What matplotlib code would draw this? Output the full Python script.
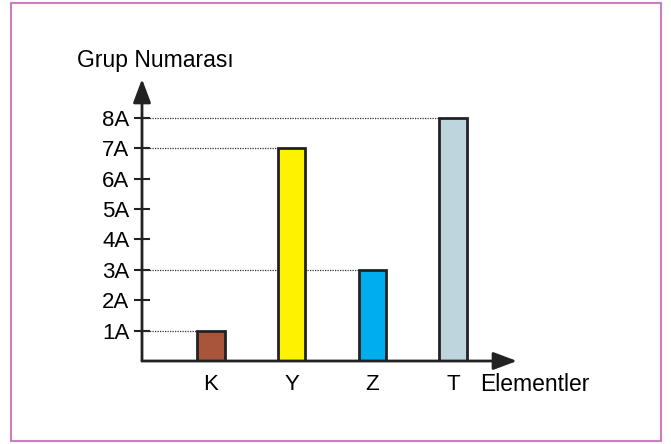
import matplotlib.pyplot as plt
from matplotlib.patches import Rectangle

plt.rcParams['font.family'] = ['Liberation Sans', 'DejaVu Sans']

elements = ['K', 'Y', 'Z', 'T']
groups = [1, 7, 3, 8]
colors = ['#a9553c', '#fff200', '#00aeef', '#bfd5dd']
tick_labels = ['1A', '2A', '3A', '4A', '5A', '6A', '7A', '8A']

W, H = 671, 444
fig = plt.figure(figsize=(W / 100, H / 100), dpi=100)

# pink frame round the whole picture
fig.patches.append(Rectangle((11 / W, 3 / H), 650 / W, 438 / H, transform=fig.transFigure,
                             fill=False, edgecolor='#cc7fbf', linewidth=1.5))

# axes box in pixels: x 142..517, y 79..361 (from top)
ax = fig.add_axes([142 / W, (H - 361) / H, 375 / W, 282 / H])
x = list(range(1, len(elements) + 1))
xmin = 1 - 69 / 80.67
xmax = 1 + 306 / 80.67
ax.set_xlim(xmin, xmax)
ax.set_ylim(0, 282 / 30.4)

ax.bar(x, groups, width=0.335, color=colors, edgecolor='#222222', linewidth=2, zorder=3)

# dotted guides from the y axis to each bar top
for xi, g in zip(x, groups):
    ax.plot([xmin, xi - 0.335 / 2], [g, g], ls=(0, (1, 1)), color='#333333', lw=0.9, zorder=2)

for s in ax.spines.values():
    s.set_visible(False)

# axis lines with arrow heads
arrow = dict(arrowstyle='-|>,head_length=1.2,head_width=0.45', color='#222222', lw=2,
             mutation_scale=12, shrinkA=0, shrinkB=0)
ax.annotate('', xy=(0, 1), xytext=(0, 0), xycoords='axes fraction', arrowprops=arrow,
            annotation_clip=False)
ax.annotate('', xy=(1, 0), xytext=(0, 0), xycoords='axes fraction', arrowprops=arrow,
            annotation_clip=False)

ax.set_yticks(range(1, 9))
ax.set_yticklabels(tick_labels, fontsize=16)
ax.tick_params(axis='y', direction='inout', length=12, width=1.5, color='#222222', pad=3)
ax.set_xticks(x)
ax.set_xticklabels(elements, fontsize=16)
ax.tick_params(axis='x', length=0, pad=9)

fig.text(77 / W, 1 - 60 / H, 'Grup Numarası', fontsize=16.5, va='center', ha='left')
fig.text(480 / W, 1 - 384 / H, 'Elementler', fontsize=16.5, va='center', ha='left')

fig.savefig('out.png', dpi=100)
